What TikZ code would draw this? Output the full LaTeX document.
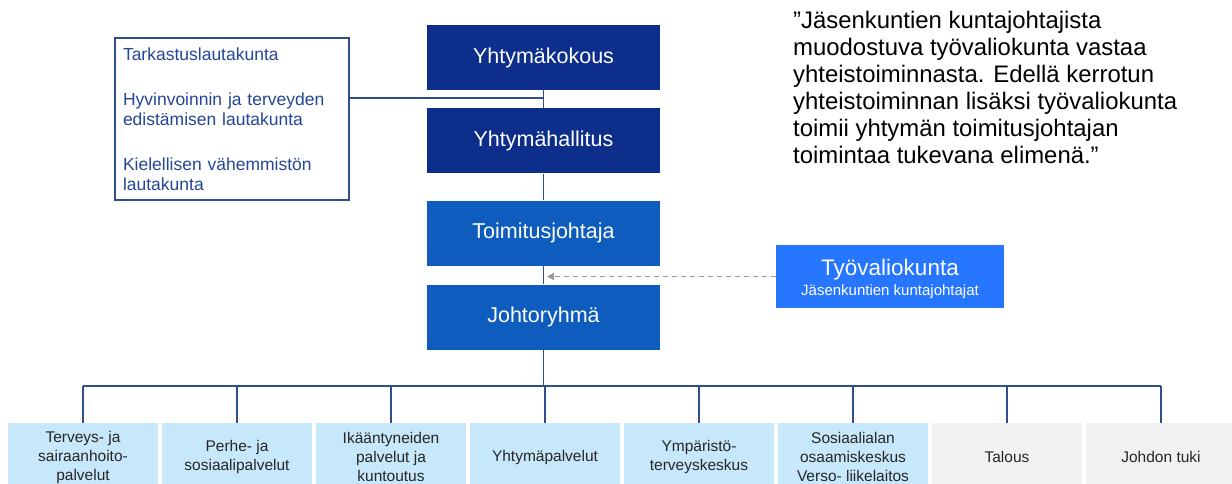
\documentclass[tikz,border=0pt]{standalone}
\usepackage{fontspec}
\setmainfont{Liberation Sans}
\usetikzlibrary{arrows.meta}
\definecolor{navy}{RGB}{13,46,138}
\definecolor{midblue}{RGB}{14,92,190}
\definecolor{tyoblue}{RGB}{38,118,255}
\definecolor{svcblue}{RGB}{199,232,250}
\definecolor{supgray}{RGB}{241,241,241}
\definecolor{linecol}{RGB}{48,78,140}
\definecolor{lautext}{RGB}{36,70,150}

\begin{document}
\begin{tikzpicture}[x=1pt,y=-1pt,
    orgline/.style={draw=linecol, line width=1.4pt},
    topbox/.style={fill=navy, text=white, minimum width=233pt, minimum height=65pt,
      inner sep=0pt, font=\fontsize{21.5}{25}\selectfont},
    midbox/.style={topbox, fill=midblue},
    tyobox/.style={fill=tyoblue, text=white, minimum width=228pt, minimum height=63pt,
      inner sep=0pt, align=center, font=\fontsize{15}{20}\selectfont},
    lautbox/.style={draw=linecol, line width=1.2pt, text=lautext, align=left,
      inner xsep=8pt, text width=218pt, minimum height=162pt,
      font=\fontsize{17.5}{20}\selectfont},
    svcbox/.style={fill=svcblue, text=black!85, minimum width=150pt, minimum height=68pt,
      inner sep=0pt, align=center, font=\fontsize{15.5}{19}\selectfont},
    supbox/.style={svcbox, fill=supgray}]
  \useasboundingbox (0,0) rectangle (1232,484);
  \clip (0,0) rectangle (1232,484);

  % Central chain
  \node[topbox] (kokous) at (543.5,57.5) {Yhtymäkokous};
  \node[topbox] (hallitus) at (543.5,141) {Yhtymähallitus};
  \node[midbox] (toimjoht) at (543.5,233) {Toimitusjohtaja};
  \node[midbox] (johto) at (543.5,317) {Johtoryhmä};

  % Boards on the left
  \node[lautbox] (lautak) at (232,119) {Tarkastuslautakunta\\[25pt]
    Hyvinvoinnin ja terveyden\\ edistämisen lautakunta\\[25pt]
    Kielellisen vähemmistön\\ lautakunta};

  % Working committee
  \node[tyobox] (tyovk) at (890,276.5)
    {\rule{0pt}{22pt}{\fontsize{22.5}{20}\selectfont Työvaliokunta}\\ Jäsenkuntien kuntajohtajat};

  % Quote
  \node[anchor=north west, inner sep=0pt, align=left,
    font=\fontsize{23.9}{27}\selectfont] (lainaus) at (793,11.3)
    {”Jäsenkuntien kuntajohtajista\\ muodostuva työvaliokunta vastaa\\
     yhteistoiminnasta. Edellä kerrotun\\ yhteistoiminnan lisäksi työvaliokunta\\
     toimii yhtymän toimitusjohtajan\\ toimintaa tukevana elimenä.”};

  % Service units
  \foreach \i/\txt/\sty in {0/{Terveys- ja\\sairaanhoito-\\palvelut}/svcbox,
      1/{Perhe- ja\\sosiaalipalvelut}/svcbox,
      2/{Ikääntyneiden\\palvelut ja\\kuntoutus}/svcbox,
      3/{Yhtymäpalvelut}/svcbox,
      4/{Ympäristö-\\terveyskeskus}/svcbox,
      5/{Sosiaalialan\\osaamiskeskus\\Verso- liikelaitos}/svcbox,
      6/{Talous}/supbox,
      7/{Johdon tuki}/supbox} {
    \node[\sty] (b\i) at ({83+154*\i},457) {\txt};
  }

  % Connectors
  \coordinate (kj) at (543.5,98);
  \coordinate (bus) at (543.5,386);
  \coordinate (tuki) at (547,276.5);
  \draw[orgline] (kokous.south) -- (hallitus.north);
  \draw[orgline] (hallitus.south) -- (toimjoht.north);
  \draw[orgline] (toimjoht.south) -- (johto.north);
  \draw[orgline] (johto.south) -- (bus);
  \draw[orgline] (kj -| lautak.east) -- (kj);
  \draw[orgline] (b0.north |- bus) -- (b7.north |- bus);
  \foreach \i in {0,...,7} {
    \draw[orgline] (b\i.north |- bus) -- (b\i.north);
  }
  \draw[gray!80, line width=1.2pt, dash pattern=on 5pt off 4pt,
    -{Triangle[length=7pt,width=7pt]}] (tyovk.west) -- (tuki);
\end{tikzpicture}
\end{document}
